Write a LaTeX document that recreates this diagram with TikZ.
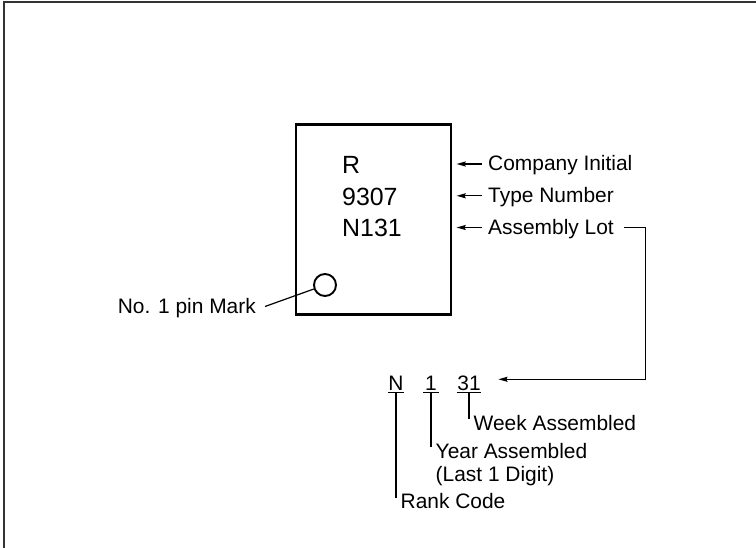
\documentclass[tikz,border=0pt]{standalone}
\usepackage{fontspec}
\setmainfont{Liberation Sans}
\usetikzlibrary{arrows.meta}
\tikzset{
  lbl/.style={font=\fontsize{21}{23}\selectfont, inner ysep=0pt, inner xsep=6bp, text height=14bp, text depth=0pt, anchor=west},
  note/.style={font=\fontsize{21}{23}\selectfont, inner sep=0pt, anchor=north west, align=left},
  chiptext/.style={font=\fontsize{25}{28}\selectfont, inner sep=0pt, text height=17bp, text depth=0pt, anchor=west},
  digit/.style={font=\fontsize{21}{23}\selectfont, inner xsep=0.6bp, inner ysep=2.5bp, minimum width=16bp, text height=15bp, text depth=0pt},
  ptr/.style={-{Stealth[length=9bp,width=5bp,inset=1bp]}, line width=1.2bp},
  thin/.style={line width=1.2bp}
}
\begin{document}
\begin{tikzpicture}[x=1bp,y=-1bp]
\useasboundingbox (0,0) rectangle (756,548);
\draw[line width=1.3bp,black!80] (4,548) -- (4,2) -- (756,2);
\node[draw, line width=2.3bp, minimum width=155bp, minimum height=190bp, inner sep=0pt] (chip) at (373.5,219.5) {};
\node[chiptext] (cR) at (342,165) {R};
\node[chiptext] (cType) at (342,196.8) {9307};
\node[chiptext] (cLot) at (342,228.5) {N131};
\node[circle, draw, line width=1.9bp, minimum size=22bp, inner sep=0pt] (pin) at (325,285) {};
\node[lbl] (co) at (482,164) {Company Initial};
\node[lbl] (type) at (482,195.8) {Type Number};
\node[lbl] (lot) at (482,227.5) {Assembly Lot};
\draw[ptr, shorten >=4.5bp] (co.west) -- (co.west -| chip.east);
\draw[ptr, shorten >=4.5bp] (type.west) -- (type.west -| chip.east);
\draw[ptr, shorten >=4.5bp] (lot.west) -- (lot.west -| chip.east);
\node[lbl, anchor=east, inner xsep=9bp] (pinlbl) at (265,306.5) {No. 1 pin Mark};
\draw[thin] (pinlbl.east) -- (pin);
\node[digit] (dN) at (396,382.5) {N};
\node[digit] (d1) at (431,382.5) {1};
\node[digit] (d31) at (469,382.5) {31};
\foreach \d in {dN,d1,d31}
  \draw[thin] (\d.south west) -- (\d.south east);
\coordinate (turn) at (645.5,379.3);
\draw[ptr, shorten <=4bp, shorten >=17bp] (lot.east) -| (turn) -- (turn -| d31.east);
\node[note] (week) at ([xshift=4.5bp,yshift=-22.5bp]d31.south) {Week Assembled};
\node[note] (year) at ([xshift=4.5bp,yshift=-50.2bp]d1.south) {Year Assembled\\(Last 1 Digit)};
\node[note] (rank) at ([xshift=4.5bp,yshift=-100.8bp]dN.south) {Rank Code};
\draw[thin] (d31.south) -- ([shift={(-4.5bp,-4bp)}]week.north west);
\draw[thin] (d1.south) -- ([shift={(-4.5bp,-4bp)}]year.north west);
\draw[thin] (dN.south) -- ([shift={(-4.5bp,-4bp)}]rank.north west);
\end{tikzpicture}
\end{document}
